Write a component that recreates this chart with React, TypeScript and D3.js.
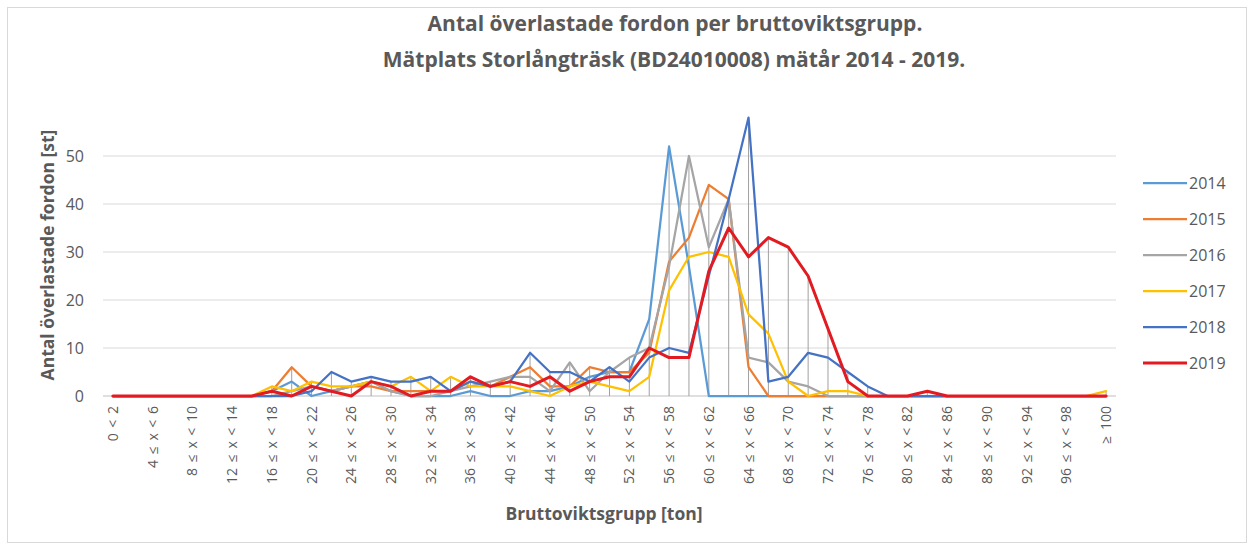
import React from 'react';
import * as d3 from 'd3';

const categories: string[] = [
  '0 < 2', '2 ≤ x < 4', '4 ≤ x < 6', '6 ≤ x < 8', '8 ≤ x < 10', '10 ≤ x < 12', '12 ≤ x < 14',
  '14 ≤ x < 16', '16 ≤ x < 18', '18 ≤ x < 20', '20 ≤ x < 22', '22 ≤ x < 24', '24 ≤ x < 26',
  '26 ≤ x < 28', '28 ≤ x < 30', '30 ≤ x < 32', '32 ≤ x < 34', '34 ≤ x < 36', '36 ≤ x < 38',
  '38 ≤ x < 40', '40 ≤ x < 42', '42 ≤ x < 44', '44 ≤ x < 46', '46 ≤ x < 48', '48 ≤ x < 50',
  '50 ≤ x < 52', '52 ≤ x < 54', '54 ≤ x < 56', '56 ≤ x < 58', '58 ≤ x < 60', '60 ≤ x < 62',
  '62 ≤ x < 64', '64 ≤ x < 66', '66 ≤ x < 68', '68 ≤ x < 70', '70 ≤ x < 72', '72 ≤ x < 74',
  '74 ≤ x < 76', '76 ≤ x < 78', '78 ≤ x < 80', '80 ≤ x < 82', '82 ≤ x < 84', '84 ≤ x < 86',
  '86 ≤ x < 88', '88 ≤ x < 90', '90 ≤ x < 92', '92 ≤ x < 94', '94 ≤ x < 96', '96 ≤ x < 98',
  '98 ≤ x < 100', '≥ 100',
];

const v2014 = [0,0,0,0,0,0,0,0, 1,3,0,1,2,3,1,0,0,0,1,0,0,1,1,2,4,5,5,16,52,27,0,0,0,0,0,0,0,0,0,0,0,0,0,0,0,0,0,0,0,0,0];
const v2015 = [0,0,0,0,0,0,0,0, 1,6,2,1,2,2,1,1,1,1,3,2,4,6,2,2,6,5,5,9,28,33,44,41,6,0,0,0,0,0,0,0,0,0,0,0,0,0,0,0,0,0,0];
const v2016 = [0,0,0,0,0,0,0,0, 0,1,2,1,2,3,1,0,0,1,2,3,4,4,1,7,1,5,8,10,27,50,31,41,8,7,3,2,0,0,0,0,0,0,0,0,0,0,0,0,0,0,0];
const v2017 = [0,0,0,0,0,0,0,0, 2,1,3,2,2,3,2,4,1,4,2,2,2,1,0,2,3,2,1,4,22,29,30,29,17,13,3,0,1,1,0,0,0,0,0,0,0,0,0,0,0,0,1];
const v2018 = [0,0,0,0,0,0,0,0, 0,0,1,5,3,4,3,3,4,1,3,2,3,9,5,5,3,6,3,8,10,9,25,41,58,3,4,9,8,5,2,0,0,0,0,0,0,0,0,0,0,0,0];
const v2019 = [0,0,0,0,0,0,0,0, 1,0,2,1,0,3,2,0,1,1,4,2,3,2,4,1,3,4,4,10,8,8,26,35,29,33,31,25,14,3,0,0,0,1,0,0,0,0,0,0,0,0,0];

const seriesNames = ['2014', '2015', '2016', '2017', '2018', '2019'];
const seriesValues = [v2014, v2015, v2016, v2017, v2018, v2019];
const seriesColors = ['#5b9bd5', '#ed7d31', '#a5a5a5', '#ffc000', '#4472c4', '#e21b22'];
const yTicks = [0, 10, 20, 30, 40, 50];

const FONT = '"Open Sans", "Noto Sans", sans-serif';
const TXT = '#595959';

export default function App() {
  const W = 1254, H = 550;
  const left = 103, right = 1116, top = 156, bottom = 396;
  const x = d3.scaleBand<string>().domain(categories).range([left, right]);
  const cx = (c: string) => (x(c) as number) + x.bandwidth() / 2;
  const y = d3.scaleLinear().domain([0, 50]).range([bottom, top]);
  const line = d3.line<number>().x((_, i) => cx(categories[i])).y((d) => y(d));
  const maxes = categories.map((_, i) => d3.max(seriesValues, (s) => s[i]) as number);

  return (
    <svg width={W} height={H} style={{ position: 'absolute', left: 0, top: 0, background: '#fff' }} fontFamily={FONT}>
      <rect x={0} y={0} width={W} height={H} fill="#fff" />
      <rect x={7.5} y={7.5} width={1239} height={535} fill="none" stroke="#d9d9d9" />
      <text x={675} y={31} textAnchor="middle" fontSize={21} fontWeight="bold" fill={TXT}>
        Antal överlastade fordon per bruttoviktsgrupp.
      </text>
      <text x={674} y={67} textAnchor="middle" fontSize={21} fontWeight="bold" fill={TXT}>
        Mätplats Storlångträsk (BD24010008) mätår 2014 - 2019.
      </text>
      {yTicks.map((t) => (
        <g key={t}>
          {t > 0 && <line x1={left} x2={right} y1={y(t)} y2={y(t)} stroke="#d9d9d9" strokeWidth={1} />}
          <text x={84} y={y(t) + 5.5} textAnchor="end" fontSize={16} fill={TXT}>{t}</text>
        </g>
      ))}
      <line x1={left} x2={right} y1={bottom} y2={bottom} stroke="#bfbfbf" strokeWidth={1} />
      {categories.map((c, i) =>
        maxes[i] > 0 ? (
          <line key={'d' + i} x1={cx(c)} x2={cx(c)} y1={y(maxes[i])} y2={bottom} stroke="#a0a0a0" strokeWidth={1} />
        ) : null
      )}
      {seriesValues.map((s, k) => (
        <path key={k} d={line(s) as string} fill="none" stroke={seriesColors[k]}
          strokeWidth={k === 5 ? 3 : 2.25} strokeLinejoin="round" strokeLinecap="round" />
      ))}
      {categories.map((c, i) =>
        i % 2 === 0 ? (
          <text key={'x' + i} transform={`translate(${cx(c) + 5},406) rotate(-90)`} textAnchor="end"
            fontSize={14} fill={TXT} style={{ wordSpacing: '2px' }}>{c}</text>
        ) : null
      )}
      <text transform="translate(54,255) rotate(-90)" textAnchor="middle" fontSize={17.5} fontWeight="bold" fill={TXT}>
        Antal överlastade fordon [st]
      </text>
      <text x={604} y={520} textAnchor="middle" fontSize={17.5} fontWeight="bold" fill={TXT}>
        Bruttoviktsgrupp [ton]
      </text>
      {seriesNames.map((n, k) => {
        const ly = 183 + k * 36;
        return (
          <g key={n}>
            <line x1={1143} x2={1187} y1={ly} y2={ly} stroke={seriesColors[k]} strokeWidth={k === 5 ? 3 : 2.25} />
            <text x={1189} y={ly + 6} fontSize={16} fill={TXT}>{n}</text>
          </g>
        );
      })}
    </svg>
  );
}
